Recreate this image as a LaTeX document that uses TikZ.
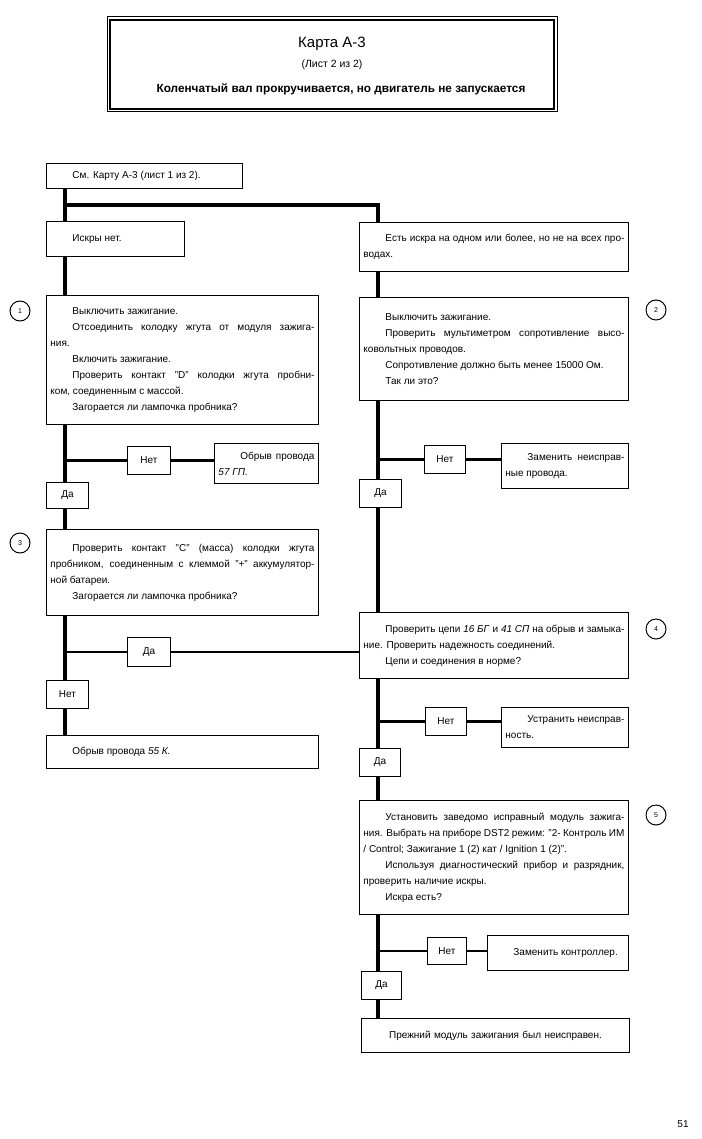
\documentclass[tikz,border=0pt]{standalone}
\usepackage{fontspec}
\setmainfont{Liberation Sans}
\newcommand\pind{\hspace*{22pt}}
\tikzset{
  bx/.style={draw, line width=0.9pt, anchor=north west, inner xsep=4pt, inner ysep=0pt,
    align=justify, font=\fontsize{10}{16}\selectfont,
    execute at begin node={\parindent=0pt\hyphenpenalty=10000\exhyphenpenalty=10000}},
  yn/.style={draw, line width=0.9pt, anchor=north west, inner sep=0pt, align=center,
    font=\fontsize{10}{11}\selectfont},
  num/.style={draw, circle, line width=1pt, minimum size=20pt, inner sep=0pt,
    font=\fontsize{7}{8}\selectfont},
  trunk/.style={line width=3.2pt},
  branch/.style={line width=2.5pt},
}
\begin{document}
\begin{tikzpicture}[x=1pt,y=-1pt]
\useasboundingbox (0,0) rectangle (701,1139);
\fill[white] (0,0) rectangle (701,1139);
% title frame
\draw[line width=1pt] (107,17) rectangle (557,112);
\draw[line width=1.4pt] (110,20) rectangle (554,109);
\node[font=\fontsize{15}{17}\selectfont] (t1) at (332,44) {Карта А-3};
\node[font=\fontsize{10.5}{12}\selectfont] (t2) at (332,65) {(Лист 2 из 2)};
\node[font=\bfseries\fontsize{11.8}{13}\selectfont] (t3) at (341,89) {Коленчатый вал прокручивается, но двигатель не запускается};

\coordinate (L) at (65,0);
\coordinate (R) at (378,0);
\coordinate (sp) at (65,205);

% left column
\node[bx, text width=188pt, minimum height=25pt] (start) at (46,163) {\pind См. Карту А-3 (лист 1 из 2).};
\node[bx, text width=130pt, minimum height=35pt] (nospark) at (46,221) {\pind Искры нет.};
\node[bx, text width=264pt, minimum height=129pt] (b1) at (46,295) {\pind Выключить зажигание.\par
\pind Отсоединить колодку жгута от модуля зажига-\linebreak ния.\par
\pind Включить зажигание.\par
\pind Проверить контакт "D" колодки жгута пробни-\linebreak ком, соединенным с массой.\par
\pind Загорается ли лампочка пробника?};
\node[yn, minimum width=43pt, minimum height=28pt] (net1) at (127,446) {Нет};
\node[bx, text width=96pt, minimum height=40pt] (res1) at (214,443) {\pind Обрыв провода\linebreak \textit{57 ГП.}};
\node[yn, minimum width=42pt, minimum height=26pt] (da1) at (46,482) {Да};
\node[bx, text width=264pt, minimum height=86pt] (b3) at (46,529) {\pind Проверить контакт "C" (масса) колодки жгута\linebreak пробником, соединенным с клеммой "+" аккумулятор-\linebreak ной батареи.\par
\pind Загорается ли лампочка пробника?};
\node[yn, minimum width=43pt, minimum height=29pt] (da2) at (127,637) {Да};
\node[yn, minimum width=42pt, minimum height=28pt] (net2) at (46,680) {Нет};
\node[bx, text width=264pt, minimum height=33pt] (res3) at (46,735) {\pind Обрыв провода \textit{55 К.}};

% right column
\node[bx, text width=261pt, minimum height=49pt] (some) at (359,222) {\pind Есть искра на одном или более, но не на всех про-\linebreak водах.};
\node[bx, text width=261pt, minimum height=103pt] (b2) at (359,297) {\pind Выключить зажигание.\par
\pind Проверить мультиметром сопротивление высо-\linebreak ковольтных проводов.\par
\pind Сопротивление должно быть менее 15000 Ом.\par
\pind Так ли это?};
\node[yn, minimum width=41pt, minimum height=28pt] (net3) at (424,445) {Нет};
\node[bx, text width=119pt, minimum height=45pt] (res2) at (501,443) {\pind Заменить неисправ-\linebreak ные провода.};
\node[yn, minimum width=42pt, minimum height=28pt] (da3) at (359,479) {Да};
\node[bx, text width=261pt, minimum height=66pt] (b4) at (359,612) {\pind Проверить цепи \textit{16 БГ} и \textit{41 СП} на обрыв и замыка-\linebreak ние. Проверить надежность соединений.\par
\pind Цепи и соединения в норме?};
\node[yn, minimum width=41pt, minimum height=28pt] (net4) at (425,707) {Нет};
\node[bx, text width=119pt, minimum height=40pt] (res4) at (501,707) {\pind Устранить неисправ-\linebreak ность.};
\node[yn, minimum width=41pt, minimum height=28pt] (da4) at (359,748) {Да};
\node[bx, text width=261pt, minimum height=114pt] (b5) at (359,800) {\pind Установить заведомо исправный модуль зажига-\linebreak ния. Выбрать на приборе DST2 режим: "2- Контроль ИМ\linebreak / Control; Зажигание 1 (2) кат / Ignition 1 (2)".\par
\pind Используя диагностический прибор и разрядник,\linebreak проверить наличие искры.\par
\pind Искра есть?};
\node[yn, minimum width=39pt, minimum height=27pt] (net5) at (427,937) {Нет};
\node[bx, text width=133pt, minimum height=35pt] (res5) at (487,935) {\pind Заменить контроллер.};
\node[yn, minimum width=40pt, minimum height=28pt] (da5) at (361,971) {Да};
\node[bx, align=center, text width=260pt, minimum height=34pt] (final) at (361,1018) {Прежний модуль зажигания был неисправен.};

% numbers
\node[num] (c1) at (20,311) {1};
\node[num] (c2) at (656,310) {2};
\node[num] (c3) at (20,543) {3};
\node[num] (c4) at (656,629) {4};
\node[num] (c5) at (656,815) {5};

% connectors left
\draw[trunk] (start.south -| L) -- (nospark.north -| L);
\draw[trunk] (sp) -| (some.north -| R);
\draw[trunk] (nospark.south -| L) -- (b1.north -| L);
\draw[trunk] (b1.south -| L) -- (da1.north -| L);
\draw[branch] (net1.west -| L) -- (net1.west);
\draw[branch] (net1.east) -- (res1.west |- net1.east);
\draw[trunk] (da1.south -| L) -- (b3.north -| L);
\draw[trunk] (b3.south -| L) -- (net2.north -| L);
\draw[branch] (da2.west -| L) -- (da2.west);
\draw[branch] (da2.east) -- (b4.west |- da2.east);
\draw[trunk] (net2.south -| L) -- (res3.north -| L);
% connectors right
\draw[trunk] (some.south -| R) -- (b2.north -| R);
\draw[trunk] (b2.south -| R) -- (da3.north -| R);
\draw[branch] (net3.west -| R) -- (net3.west);
\draw[branch] (net3.east) -- (res2.west |- net3.east);
\draw[trunk] (da3.south -| R) -- (b4.north -| R);
\draw[trunk] (b4.south -| R) -- (da4.north -| R);
\draw[branch] (net4.west -| R) -- (net4.west);
\draw[branch] (net4.east) -- (res4.west |- net4.east);
\draw[trunk] (da4.south -| R) -- (b5.north -| R);
\draw[trunk] (b5.south -| R) -- (da5.north -| R);
\draw[branch] (net5.west -| R) -- (net5.west);
\draw[branch] (net5.east) -- (res5.west |- net5.east);
\draw[trunk] (da5.south -| R) -- (final.north -| R);

\node[font=\fontsize{10}{12}\selectfont] (pg) at (683,1124) {51};
\end{tikzpicture}
\end{document}
